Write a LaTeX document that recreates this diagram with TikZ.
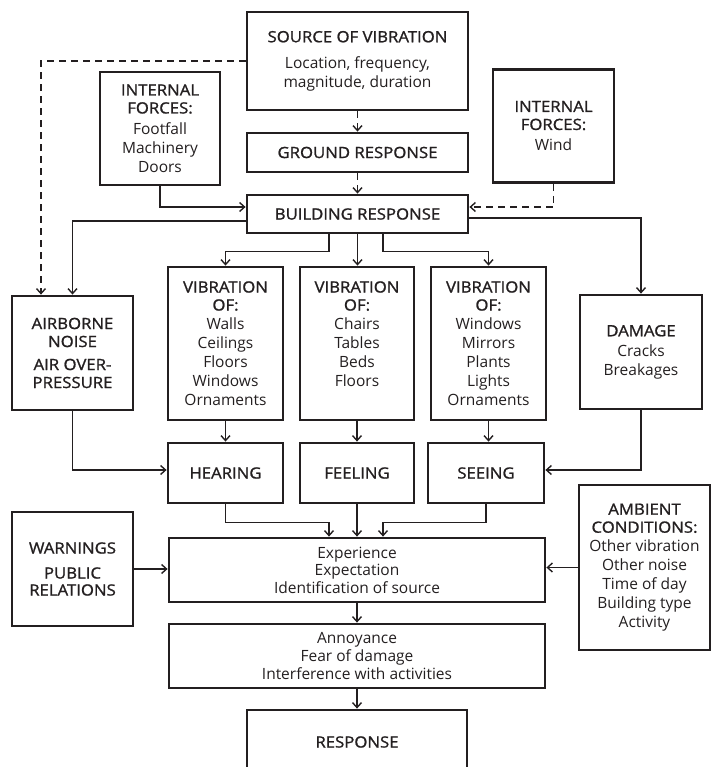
\documentclass[tikz,border=0pt]{standalone}
\usepackage{fontspec}
\setmainfont{Open Sans}
\IfFontExistsTF{Open Sans SemiBold}
  {\newfontfamily\hdfont{Open Sans SemiBold}}
  {\newfontfamily\hdfont{Open Sans}[FakeBold=1.2,FakeStretch=1.08]}
\newcommand\hdr[1]{{\hdfont #1}}
\usetikzlibrary{arrows.meta}
\definecolor{ink}{HTML}{231F20}
\begin{document}
\begin{tikzpicture}[x=1pt,y=-1pt,
  box/.style={draw=ink, line width=2.8pt, text=ink, align=center, inner sep=0pt,
    font=\fontsize{15.5}{19}\selectfont},
  conn/.style={draw=ink, line width=1.4pt, -{Straight Barb[length=5pt,width=9pt,line width=1.4pt]}},
  dconn/.style={conn, dash pattern=on 7pt off 5pt},
]
\clip (0,0) rectangle (711,767);
\node[box, minimum width=221pt, minimum height=98pt] (src) at (357.5,61)
  {\hdr{SOURCE OF VIBRATION}\\[7pt]Location, frequency,\\magnitude, duration};
\node[box, minimum width=221pt, minimum height=39pt] (gnd) at (357.5,152.5) {\hdr{GROUND RESPONSE}};
\node[box, minimum width=221pt, minimum height=38pt] (bld) at (357.5,214) {\hdr{BUILDING RESPONSE}};
\node[box, minimum width=120pt, minimum height=113pt] (ifl) at (160,128.5)
  {\hdr{INTERNAL}\\[-1pt]\hdr{FORCES:}\\[2pt]Footfall\\Machinery\\Doors};
\node[box, minimum width=121pt, minimum height=113pt] (ifw) at (553.5,126)
  {\hdr{INTERNAL}\\[-1pt]\hdr{FORCES:}\\[2pt]Wind};
\node[box, minimum width=121pt, minimum height=114pt] (air) at (72.5,353)
  {\hdr{AIRBORNE}\\[-1pt]\hdr{NOISE}\\[4pt]\hdr{AIR OVER-}\\[-1pt]\hdr{PRESSURE}};
\node[box, minimum width=115pt, minimum height=153pt] (v1) at (225.5,343.5)
  {\hdr{VIBRATION}\\[-1pt]\hdr{OF:}\\Walls\\Ceilings\\Floors\\Windows\\Ornaments};
\node[box, minimum width=114pt, minimum height=153pt] (v2) at (357,343.5)
  {\hdr{VIBRATION}\\[-1pt]\hdr{OF:}\\Chairs\\Tables\\Beds\\Floors\\\phantom{Beds}};
\node[box, minimum width=115pt, minimum height=153pt] (v3) at (488.5,343.5)
  {\hdr{VIBRATION}\\[-1pt]\hdr{OF:}\\Windows\\Mirrors\\Plants\\Lights\\Ornaments};
\node[box, minimum width=122pt, minimum height=114pt] (dmg) at (641,352)
  {\hdr{DAMAGE}\\[1pt]Cracks\\Breakages};
\node[box, minimum width=115pt, minimum height=60pt] (hear) at (225.5,473) {\hdr{HEARING}};
\node[box, minimum width=114pt, minimum height=60pt] (feel) at (357,473) {\hdr{FEELING}};
\node[box, minimum width=116pt, minimum height=60pt] (see) at (486,473) {\hdr{SEEING}};
\node[box, minimum width=376pt, minimum height=64pt] (exp) at (357,570)
  {Experience\\[-1.5pt]Expectation\\[-1.5pt]Identification of source};
\node[box, minimum width=121pt, minimum height=114pt] (warn) at (72.5,569)
  {\hdr{WARNINGS}\\[6pt]\hdr{PUBLIC}\\[-2pt]\hdr{RELATIONS}};
\node[box, minimum width=131pt, minimum height=165pt] (amb) at (644.5,567.5)
  {\hdr{AMBIENT}\\[-1pt]\hdr{CONDITIONS:}\\Other vibration\\Other noise\\Time of day\\Building type\\Activity};
\node[box, minimum width=376pt, minimum height=64pt] (ann) at (357,656)
  {Annoyance\\[-1pt]Fear of damage\\[-1pt]Interference with activities};
\node[box, minimum width=220pt, minimum height=64pt] (resp) at (357,742) {\hdr{RESPONSE}};
% connectors
\draw[dconn] (src.west) -| ([xshift=-31.5pt]air.north);
\draw[dconn] (src.south) -- (gnd.north);
\draw[dconn] (gnd.south) -- (bld.north);
\draw[conn] (ifl.south) |- ([yshift=7pt]bld.west);
\draw[dconn] (ifw.south) |- ([yshift=7pt]bld.east);
\draw[conn] ([yshift=-7pt]bld.west) -| (air.north);
\draw[conn] ([yshift=-4pt]bld.east) -| (dmg.north);
\draw[conn] ([xshift=-28.5pt]bld.south) -- ++(0,17) -| (v1.north);
\draw[conn] (bld.south) -- (bld.south |- v2.north);
\draw[conn] ([xshift=25.5pt]bld.south) -- ++(0,17) -| (v3.north);
\draw[conn] (v1.south) -- (hear.north);
\draw[conn] (v2.south) -- (feel.north);
\draw[conn] (v3.south) -- (v3.south |- see.north);
\draw[conn] (air.south) |- ([yshift=3pt]hear.west);
\draw[conn] (dmg.south) |- ([yshift=3pt]see.east);
\draw[conn] (hear.south) -- ++(0,18) -| ([xshift=-28pt]exp.north);
\draw[conn] (feel.south) -- (feel.south |- exp.north);
\draw[conn] (see.south) -- ++(0,18) -| ([xshift=26pt]exp.north);
\draw[conn] (warn.east) -- (warn.east -| exp.west);
\draw[conn] (amb.west) -- (amb.west -| exp.east);
\draw[conn] (exp.south) -- (ann.north);
\draw[conn] (ann.south) -- (resp.north);
\end{tikzpicture}
\end{document}
